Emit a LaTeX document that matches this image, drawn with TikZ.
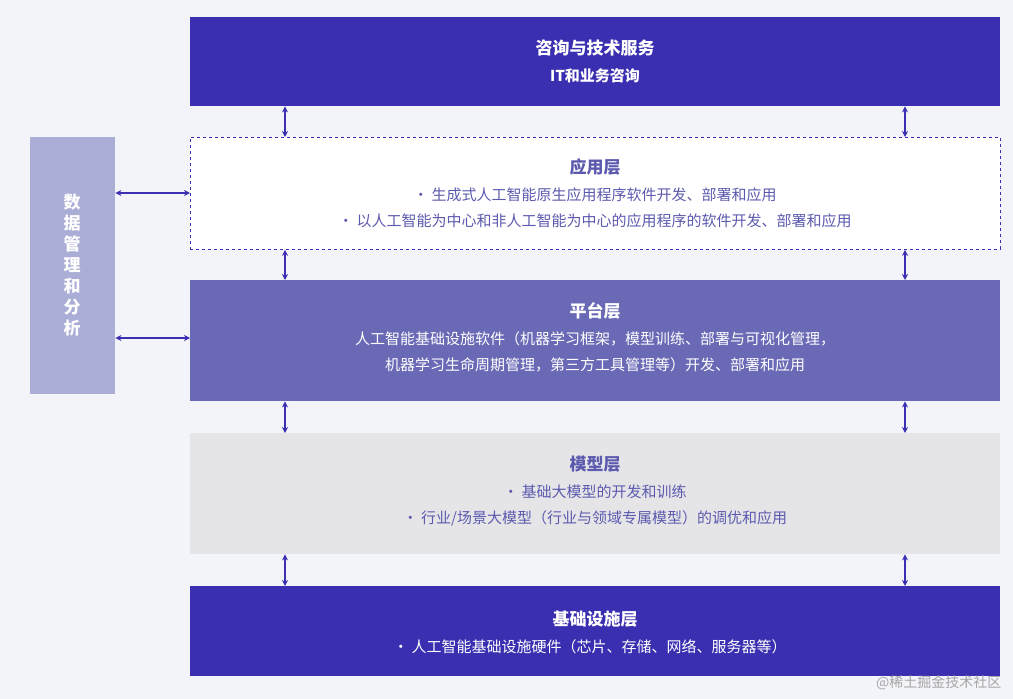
\documentclass[tikz,border=0pt]{standalone}
\usepackage{fontspec}
\setmainfont{Noto Sans CJK SC}
\usetikzlibrary{arrows.meta}
\definecolor{colorBG}{HTML}{F3F3FA}
\definecolor{colorDark}{HTML}{3A2FB0}
\definecolor{colorPlat}{HTML}{6A69B6}
\definecolor{colorModel}{HTML}{E5E5E8}
\definecolor{colorSide}{HTML}{AAADD6}
\definecolor{colorText}{HTML}{5C5AAE}
\tikzset{
   every path/.style={>={Stealth[length=6pt,width=6pt]}},
   layer/.style={minimum width=810pt,anchor=north west,inner sep=0pt,align=center},
   link/.style={<->,color=colorDark,line width=1.6pt},
   ttl/.style={font=\bfseries\fontsize{17}{20}\selectfont},
   txt/.style={font=\fontsize{15}{26}\selectfont},
}
\begin{document}
\begin{tikzpicture}[x=1pt,y=-1pt]
        \fill[colorBG] (0,0) rectangle (1013,699);
        \useasboundingbox (0,0) rectangle (1013,699);

        \node[layer, fill=colorDark, minimum height=89pt] (svc) at (190, 17) {};
        \node[layer, fill=white, draw=colorDark, dashed, thick, minimum height=112pt] (app) at (190,137) {};
        \node[layer, fill=colorPlat, minimum height=121pt] (plat) at (190,280) {};
        \node[layer, fill=colorModel, minimum height=121pt] (model) at (190,433) {};
        \node[layer, fill=colorDark, minimum height=90pt] (infra) at (190,586) {};
        \node[fill=colorSide, minimum width=85pt, minimum height=257pt, anchor=north west, inner sep=0pt] (data) at (30,137) {};

        \node[white, ttl] (svcT) at (595, 48) {咨询与技术服务};
        \node[white, font=\bfseries\fontsize{15}{18}\selectfont] (svcS) at (595, 76) {IT和业务咨询};

        \node[colorText, ttl] (appT) at (595,167) {应用层};
        \node[colorText, txt, align=center] (appS) at (595,208)
          {• 生成式人工智能原生应用程序软件开发、部署和应用\\
           • 以人工智能为中心和非人工智能为中心的应用程序的软件开发、部署和应用};

        \node[white, ttl] (platT) at (595,311) {平台层};
        \node[white, txt, align=center] (platS) at (595,352)
          {人工智能基础设施软件（机器学习框架，模型训练、部署与可视化管理，\\
           机器学习生命周期管理，第三方工具管理等）开发、部署和应用};

        \node[colorText, ttl] (modelT) at (595,464) {模型层};
        \node[colorText, txt, align=center] (modelS) at (595,505)
          {• 基础大模型的开发和训练\\
           • 行业/场景大模型（行业与领域专属模型）的调优和应用};

        \node[white, ttl] (infraT) at (595,619) {基础设施层};
        \node[white, txt] (infraS) at (590,647) {• 人工智能基础设施硬件（芯片、存储、网络、服务器等）};

        \node[white, font=\bfseries\fontsize{17}{21}\selectfont, align=center] (dataT) at (72,265)
          {数\\据\\管\\理\\和\\分\\析};

        \foreach \u/\l in {svc/app, app/plat, plat/model, model/infra} {
          \draw[link] (\u.south west) ++(95,0) coordinate (a) -- (a |- \l.north);
          \draw[link] (\u.south west) ++(715,0) coordinate (b) -- (b |- \l.north);
        }
        \draw[link] (data.east |- 0,193) -- (app.west |- 0,193);
        \draw[link] (data.east |- 0,338) -- (plat.west |- 0,338);

        \node[gray!70, font=\fontsize{14}{16}\selectfont, anchor=east] (mark) at (1005,683) {@稀土掘金技术社区};
\end{tikzpicture}
\end{document}
